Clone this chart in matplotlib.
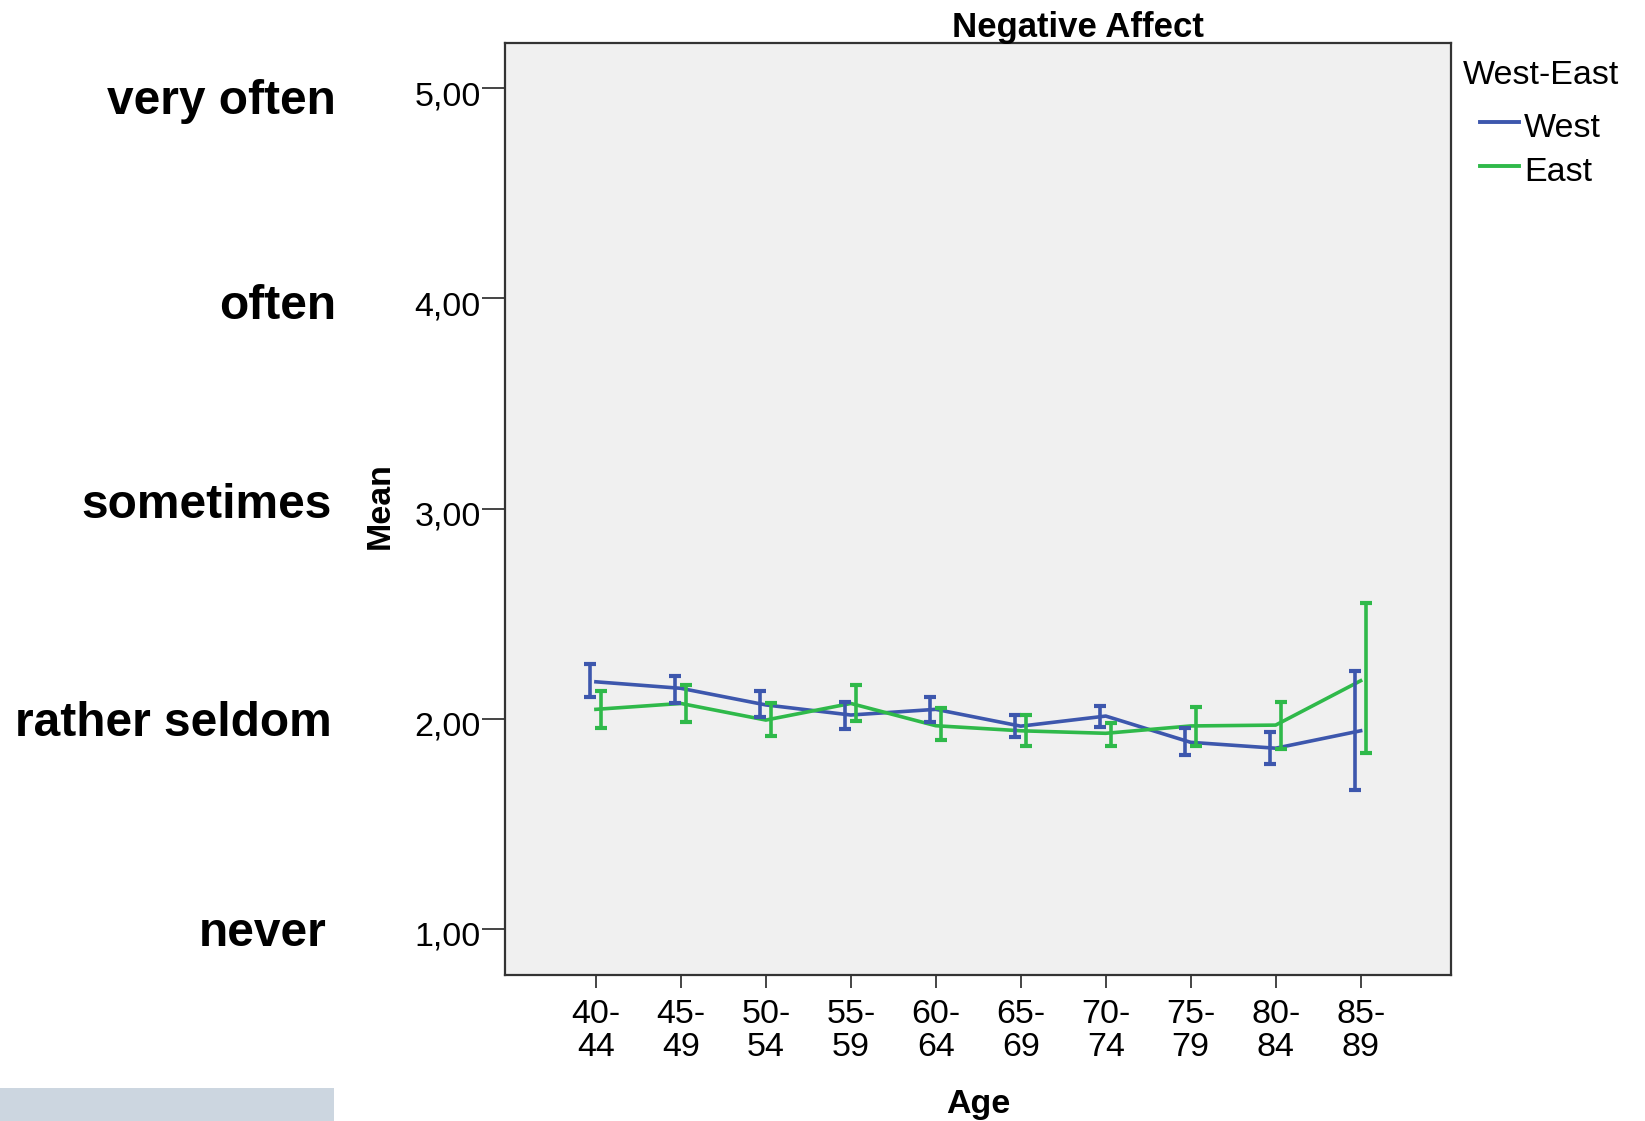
import matplotlib
matplotlib.use("Agg")
import matplotlib.pyplot as plt
import matplotlib.transforms as mtransforms
from matplotlib.lines import Line2D
import numpy as np

plt.rcParams['font.family'] = ['Liberation Sans', 'DejaVu Sans']

# data
age_groups = ['40-\n44', '45-\n49', '50-\n54', '55-\n59', '60-\n64',
              '65-\n69', '70-\n74', '75-\n79', '80-\n84', '85-\n89']
west_mean = [2.176, 2.145, 2.066, 2.018, 2.045, 1.965, 2.013, 1.888, 1.860, 1.943]
west_lo = [2.102, 2.077, 2.010, 1.951, 1.986, 1.912, 1.962, 1.828, 1.785, 1.661]
west_hi = [2.259, 2.205, 2.131, 2.080, 2.102, 2.018, 2.062, 1.955, 1.936, 2.227]
east_mean = [2.045, 2.073, 1.994, 2.073, 1.967, 1.943, 1.931, 1.966, 1.970, 2.181]
east_lo = [1.955, 1.986, 1.918, 1.991, 1.899, 1.871, 1.871, 1.871, 1.855, 1.836]
east_hi = [2.132, 2.161, 2.074, 2.159, 2.050, 2.018, 1.981, 2.058, 2.081, 2.552]
y_ticks = [1, 2, 3, 4, 5]
scale_labels = ['never', 'rather seldom', 'sometimes', 'often', 'very often']

W, H = 1645, 1121
fig = plt.figure(figsize=(W / 100, H / 100), dpi=100)
ax = fig.add_axes([505 / W, 1 - 975 / H, (1450.7 - 505) / W, (975 - 43.3) / H])
ax.set_facecolor('#F0F0F0')

blue = '#3D57AD'
green = '#2FB94A'
x = np.arange(len(age_groups))

def draw(mean, lo, hi, color, off, label):
    mean, lo, hi = map(np.array, (mean, lo, hi))
    ax.plot(x, mean, color=color, lw=2.6, label=label, zorder=3)
    ax.errorbar(x + off, mean, yerr=[mean - lo, hi - mean], fmt='none',
                ecolor=color, elinewidth=2.6, capsize=4.2, capthick=3.0, zorder=4)

draw(west_mean, west_lo, west_hi, blue, -0.068, 'West')
draw(east_mean, east_lo, east_hi, green, 0.058, 'East')

fs = 24.5
ax.set_xlim(-1.07, 10.06)
ax.set_ylim(0.781, 5.214)
ax.set_xticks(x)
ax.set_xticklabels(age_groups, fontsize=fs, linespacing=1.08)
ax.set_yticks(y_ticks)
ax.set_yticklabels(['%d,00' % v for v in y_ticks], fontsize=fs)
ax.tick_params(axis='y', length=16.5, width=1.4, color='#444444', pad=1)
ax.tick_params(axis='x', length=9, width=1.4, color='#444444', pad=8)
# SPSS draws the value labels a little below their tick
shift = mtransforms.ScaledTranslation(0, -5 / 100, fig.dpi_scale_trans)
for t in ax.get_yticklabels():
    t.set_transform(t.get_transform() + shift)
for s in ax.spines.values():
    s.set_color('#333333')
    s.set_linewidth(1.6)

fig.text(380 / W, 1 - 506 / H, 'Mean', rotation=90, fontsize=fs, fontweight='bold',
         ha='center', va='center')
fig.text(978 / W, 1 - 1113 / H, 'Age', fontsize=fs, fontweight='bold',
         ha='center', va='baseline')
fig.text(1078 / W, 1 - 36.7 / H, 'Negative Affect', fontsize=25, fontweight='bold',
         ha='center', va='baseline')

# legend, drawn by hand to sit where SPSS puts it
fig.text(1463 / W, 1 - 84 / H, 'West-East', fontsize=fs, ha='left', va='baseline')
for lab, color, ly, tb in [('West', blue, 121.7, 137), ('East', green, 166, 181)]:
    fig.add_artist(Line2D([1480 / W, 1519 / W], [1 - ly / H, 1 - ly / H],
                          transform=fig.transFigure, color=color, lw=2.8))
    fig.text(1524 / W, 1 - tb / H, lab, fontsize=fs, ha='left', va='baseline')

# response-scale labels on the left
right_edges = [327, 331.5, 331.5, 336.7, 335.7]
centers = [934, 724, 505, 307, 101]
for lab, xr, yc in zip(scale_labels, right_edges, centers):
    fig.text(xr / W, 1 - yc / H, lab, fontsize=34.5, fontweight='bold',
             ha='right', va='center')

fig.patches.append(plt.Rectangle((0, 0), 334 / W, 33 / H, transform=fig.transFigure,
                                 facecolor='#CCD6E0', edgecolor='none'))

fig.savefig('out.png', dpi=100)
